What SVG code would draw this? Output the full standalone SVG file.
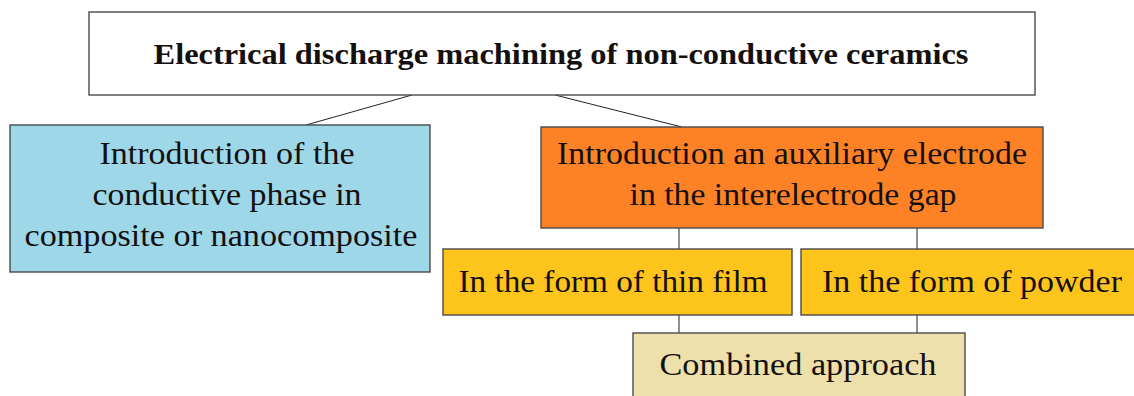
<svg xmlns="http://www.w3.org/2000/svg" width="1134" height="396" viewBox="0 0 1134 396">
<style>
.box{stroke:#4a4a4a;stroke-width:1.4}
.t{font-family:"Liberation Serif","DejaVu Serif",serif;font-size:31px;fill:#141010;text-anchor:middle}
.b{font-weight:bold;font-size:29px}
.c{stroke:#222;stroke-width:1;fill:none}
</style>
<rect width="1134" height="396" fill="#ffffff"/>
<g id="connectors">
<line class="c" x1="412" y1="95" x2="306" y2="125"/>
<line class="c" x1="555" y1="95" x2="682" y2="127"/>
<line class="c" x1="679" y1="228" x2="679" y2="249"/>
<line class="c" x1="917" y1="228" x2="917" y2="249"/>
<line class="c" x1="679" y1="315" x2="679" y2="333"/>
<line class="c" x1="917" y1="315" x2="917" y2="333"/>
</g>
<g id="root">
<rect class="box" x="89" y="12" width="946" height="83" fill="#ffffff" stroke="#777"/>
<text class="t b" x="561" y="64" textLength="815" lengthAdjust="spacingAndGlyphs">Electrical discharge machining of non-conductive ceramics</text>
</g>
<g id="conductive-phase">
<rect class="box" x="10" y="125" width="420" height="147" fill="#9dd7e8"/>
<text class="t" x="227" y="164" textLength="255" lengthAdjust="spacingAndGlyphs">Introduction of the</text>
<text class="t" x="227" y="205" textLength="269" lengthAdjust="spacingAndGlyphs">conductive phase in</text>
<text class="t" x="221" y="246" textLength="393" lengthAdjust="spacingAndGlyphs">composite or nanocomposite</text>
</g>
<g id="auxiliary-electrode">
<rect class="box" x="541" y="127" width="502" height="101" fill="#fd8226"/>
<text class="t" x="792" y="164" textLength="470" lengthAdjust="spacingAndGlyphs">Introduction an auxiliary electrode</text>
<text class="t" x="793" y="205" textLength="327" lengthAdjust="spacingAndGlyphs">in the interelectrode gap</text>
</g>
<g id="thin-film">
<rect class="box" x="443" y="249" width="349" height="66" fill="#fdc51b"/>
<text class="t" x="613" y="292" textLength="309" lengthAdjust="spacingAndGlyphs">In the form of thin film</text>
</g>
<g id="powder">
<rect class="box" x="801" y="249" width="334" height="66" fill="#fdc51b"/>
<text class="t" x="972" y="292" textLength="300" lengthAdjust="spacingAndGlyphs">In the form of powder</text>
</g>
<g id="combined">
<rect class="box" x="633" y="333" width="332" height="66" fill="#eee0ab"/>
<text class="t" x="798" y="375" textLength="277" lengthAdjust="spacingAndGlyphs">Combined approach</text>
</g>
</svg>
